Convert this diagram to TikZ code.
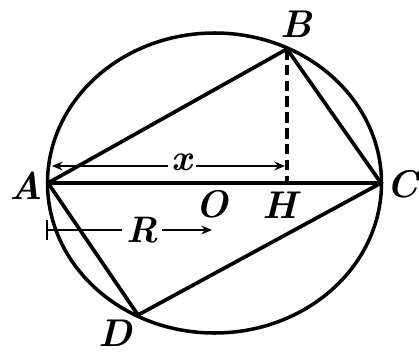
\documentclass[tikz,border=0pt]{standalone}
\usepackage{tikz}
\usetikzlibrary{arrows.meta,calc}

\begin{document}
\begin{tikzpicture}[
            x=0.02cm, y=-0.02cm,
            >={Stealth[length=6pt,width=5pt]},
            chord/.style={line width=2.1pt, line join=round},
            rim/.style={line width=2pt},
            dim_line/.style={line width=1pt},
            height_line/.style={line width=1.8pt, dash pattern=on 6pt off 3pt},
            pt_label/.style={font=\fontsize{22}{24}\selectfont\bfseries\itshape, inner sep=1pt},
            dim_label/.style={font=\fontsize{21}{24}\selectfont\bfseries\itshape, inner sep=2pt}
        ]

        \useasboundingbox (0,0) rectangle (419,355);

        % Points on the circle
        \coordinate (O) at (214.5, 183);
        \coordinate (A) at (48, 183);
        \coordinate (C) at (381, 183);
        \coordinate (B) at (287, 49);
        \coordinate (D) at (138, 315);
        \coordinate (H) at (287, 183);

        % Circle (scan is slightly stretched)
        \draw[rim] (O) ellipse [x radius=167, y radius=150];

        % Quadrilateral and diameter
        \draw[chord] (A) -- (B) -- (C) -- (D) -- cycle;
        \draw[chord] (A) -- (C);

        % Height from B
        \draw[height_line] (B) -- (H);

        % Dimension x
        \coordinate (xl) at (52, 166);
        \coordinate (xr) at (285, 166);
        \node[dim_label, anchor=base] (xlab) at (182, 170) {x};
        \draw[dim_line, ->] (xlab.west |- xl) -- (xl);
        \draw[dim_line, ->] (xlab.east |- xr) -- (xr);

        % Dimension R
        \coordinate (Rl) at (47, 230);
        \coordinate (Rr) at (212, 230);
        \draw[dim_line] ($(Rl)+(0,-10)$) -- ($(Rl)+(0,10)$);
        \node[dim_label] (Rlab) at (142, 230) {R};
        \draw[dim_line] (Rlab.west |- Rl) -- (Rl);
        \draw[dim_line, ->] (Rlab.east |- Rr) -- (Rr);

        % Point labels
        \node[pt_label] (Alab) at (26, 186) {A};
        \node[pt_label] (Blab) at (296, 24) {B};
        \node[pt_label] (Clab) at (402, 184) {C};
        \node[pt_label] (Dlab) at (115, 333) {D};
        \node[pt_label] (Olab) at (212, 204) {O};
        \node[pt_label] (Hlab) at (280, 205) {H};

    \end{tikzpicture}
\end{document}
